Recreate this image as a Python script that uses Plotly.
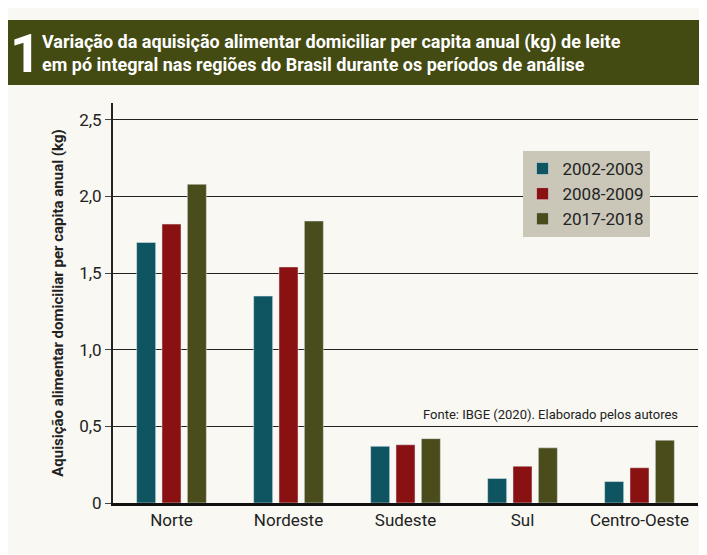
import plotly.graph_objects as go

regioes = ["Norte", "Nordeste", "Sudeste", "Sul", "Centro-Oeste"]
periodos = ["2002-2003", "2008-2009", "2017-2018"]
v_2002 = [1.70, 1.35, 0.37, 0.16, 0.14]
v_2008 = [1.82, 1.54, 0.38, 0.24, 0.23]
v_2017 = [2.08, 1.84, 0.42, 0.36, 0.41]
cores = ["#0e5461", "#8a1111", "#4a4d1b"]

fonte = "Liberation Sans Narrow, Roboto, sans-serif"

fig = go.Figure()
for nome, vals, cor in zip(periodos, [v_2002, v_2008, v_2017], cores):
    fig.add_trace(go.Bar(x=regioes, y=vals, name=nome, marker_color=cor))

fig.update_layout(
    width=707, height=555,
    paper_bgcolor="#f9f8f3", plot_bgcolor="#f9f8f3",
    margin=dict(l=105, r=17, t=95, b=60),
    font=dict(family=fonte, color="#222", size=16),
    barmode="group", bargap=0.35, bargroupgap=0.25,
    legend=dict(x=0.7, y=0.88, xanchor="left", yanchor="top", bgcolor="#cac7b9",
                font=dict(size=17), traceorder="normal", itemwidth=30,
                tracegroupgap=0),
    shapes=[dict(type="rect", xref="paper", yref="paper", x0=-0.2, x1=1.02,
                 y0=1.045, y1=1.2075, fillcolor="#434a12", line_width=0, layer="above")],
    annotations=[
        dict(text="<b>1</b>", xref="paper", yref="paper", x=-0.18, y=1.125, showarrow=False,
             xanchor="left", yanchor="middle", font=dict(size=54, color="white", family=fonte)),
        dict(text="<b>Variação da aquisição alimentar domiciliar per capita anual (kg) de leite<br>"
                  "em pó integral nas regiões do Brasil durante os períodos de análise</b>",
             xref="paper", yref="paper", x=-0.125, y=1.125, showarrow=False, align="left",
             xanchor="left", yanchor="middle", font=dict(size=18, color="white", family=fonte)),
        dict(text="Fonte: IBGE (2020). Elaborado pelos autores", xref="paper", yref="y",
             x=0.97, y=0.58, showarrow=False, xanchor="right", font=dict(size=13)),
    ],
)
fig.update_xaxes(showline=True, linecolor="#111", linewidth=3, ticks="", tickfont=dict(size=17))
fig.update_yaxes(range=[0, 2.61], tickvals=[0, 0.5, 1.0, 1.5, 2.0, 2.5],
                 ticktext=["0", "0,5", "1,0", "1,5", "2,0", "2,5"],
                 showgrid=True, gridcolor="#222", gridwidth=1, zeroline=False,
                 showline=True, linecolor="#222", linewidth=2, ticks="outside", ticklen=6,
                 tickfont=dict(size=17),
                 title=dict(text="<b>Aquisição alimentar domiciliar per capita anual (kg)</b>",
                            font=dict(size=15), standoff=12))

fig.write_html("out.html")
